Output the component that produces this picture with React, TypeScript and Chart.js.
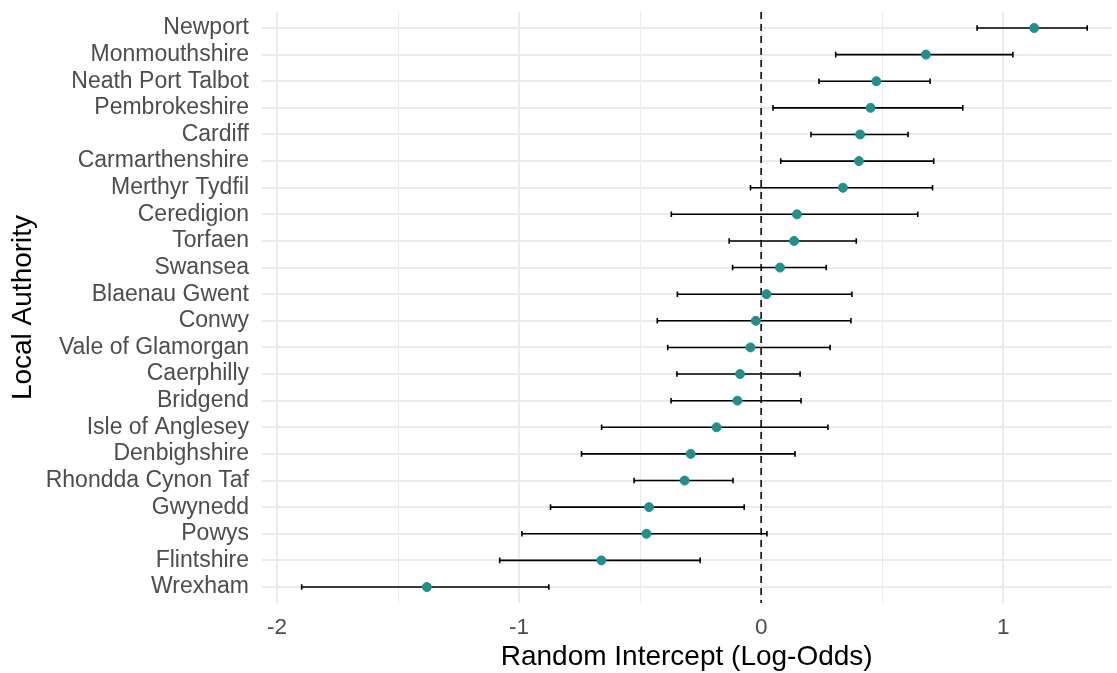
import React, { useEffect, useRef } from "react";
import { Chart, registerables } from "chart.js";

Chart.register(...registerables);

const authorities = [
  "Newport", "Monmouthshire", "Neath Port Talbot", "Pembrokeshire", "Cardiff",
  "Carmarthenshire", "Merthyr Tydfil", "Ceredigion", "Torfaen", "Swansea",
  "Blaenau Gwent", "Conwy", "Vale of Glamorgan", "Caerphilly", "Bridgend",
  "Isle of Anglesey", "Denbighshire", "Rhondda Cynon Taf", "Gwynedd", "Powys",
  "Flintshire", "Wrexham",
];
const estimates = [
  1.128, 0.681, 0.476, 0.452, 0.409, 0.404, 0.338, 0.148, 0.136, 0.078, 0.022,
  -0.022, -0.044, -0.087, -0.098, -0.184, -0.291, -0.316, -0.463, -0.474, -0.66, -1.381,
];
const lowers = [
  0.892, 0.308, 0.239, 0.049, 0.206, 0.081, -0.044, -0.371, -0.132, -0.118, -0.346,
  -0.429, -0.386, -0.348, -0.372, -0.659, -0.742, -0.525, -0.87, -0.988, -1.08, -1.898,
];
const uppers = [
  1.347, 1.04, 0.698, 0.833, 0.607, 0.713, 0.708, 0.647, 0.393, 0.269, 0.375,
  0.371, 0.285, 0.161, 0.165, 0.276, 0.14, -0.116, -0.07, 0.024, -0.252, -0.877,
];
const xGridValues = [-2, -1.5, -1, -0.5, 0, 0.5, 1];
const xTickLabels = ["-2", "", "-1", "", "0", "", "1"];
const referenceX = 0;

const FONT = "'Liberation Sans', Arial, sans-serif";

export default function App() {
  const canvasRef = useRef<HTMLCanvasElement | null>(null);

  useEffect(() => {
    document.body.style.margin = "0";
    const canvas = canvasRef.current;
    if (!canvas) return;

    const n = authorities.length;
    const yMin = -0.6;
    const yMax = n - 1 + 0.6;

    const pointData = estimates.map((v, i) => ({ x: v, y: i }));
    const barData: any[] = [];
    lowers.forEach((lo, i) => {
      barData.push({ x: lo, y: i });
      barData.push({ x: uppers[i], y: i });
      barData.push({ x: null, y: null });
    });
    const refData = [
      { x: referenceX, y: yMin },
      { x: referenceX, y: yMax },
    ];

    const chart = new Chart(canvas, {
      type: "scatter",
      data: {
        datasets: [
          {
            label: "Estimate",
            data: pointData,
            backgroundColor: "#21908C",
            borderColor: "#21908C",
            borderWidth: 1,
            pointRadius: 4.5,
            showLine: false,
          },
          {
            label: "CI",
            data: barData,
            showLine: true,
            spanGaps: false,
            borderColor: "#000000",
            borderWidth: 1.6,
            pointStyle: "line",
            pointRotation: 90,
            pointRadius: 2.8,
            pointBorderWidth: 1.6,
            pointBorderColor: "#000000",
            pointBackgroundColor: "#000000",
          },
          {
            label: "Zero",
            data: refData,
            showLine: true,
            borderColor: "#000000",
            borderWidth: 1.5,
            borderDash: [7, 5],
            pointRadius: 0,
          },
        ],
      },
      options: {
        animation: false,
        responsive: true,
        maintainAspectRatio: false,
        layout: { padding: { top: 12, right: 4, left: 0, bottom: 0 } },
        plugins: {
          legend: { display: false },
          tooltip: { enabled: false },
        },
        scales: {
          x: {
            type: "linear",
            min: -2.062,
            max: 1.447,
            border: { display: false },
            grid: {
              color: "#EBEBEB",
              lineWidth: (ctx: any) =>
                ctx.tick && Number.isInteger(ctx.tick.value) ? 2 : 1,
              drawTicks: false,
            },
            afterBuildTicks: (scale: any) => {
              scale.ticks = xGridValues.map((v) => ({ value: v }));
            },
            afterFit: (scale: any) => {
              scale.height = 70;
              scale.paddingLeft = 0;
              scale.paddingRight = 0;
            },
            ticks: {
              autoSkip: false,
              maxRotation: 0,
              padding: 11,
              color: "#4D4D4D",
              font: { family: FONT, size: 22.5 },
              callback: (_v: any, idx: number) => xTickLabels[idx],
            },
            title: {
              display: true,
              text: "Random Intercept (Log-Odds)",
              color: "#000000",
              font: { family: FONT, size: 28 },
              padding: { top: 0, bottom: -1 },
            },
          },
          y: {
            type: "linear",
            min: yMin,
            max: yMax,
            reverse: true,
            border: { display: false },
            grid: { color: "#EBEBEB", lineWidth: 2, drawTicks: false },
            afterBuildTicks: (scale: any) => {
              scale.ticks = authorities.map((_, i) => ({ value: i }));
            },
            afterFit: (scale: any) => {
              scale.width = 262;
              scale.paddingTop = 0;
              scale.paddingBottom = 0;
            },
            ticks: {
              autoSkip: false,
              padding: 13,
              color: "#4D4D4D",
              font: { family: FONT, size: 23 },
              callback: (_v: any, idx: number) => authorities[idx],
            },
            title: {
              display: true,
              text: "Local Authority",
              color: "#000000",
              font: { family: FONT, size: 28 },
              padding: { top: 6, bottom: 0 },
            },
          },
        },
      },
    } as any);

    return () => chart.destroy();
  }, []);

  return (
    <div style={{ width: 1117, height: 673, position: "relative" }}>
      <canvas ref={canvasRef} />
    </div>
  );
}
